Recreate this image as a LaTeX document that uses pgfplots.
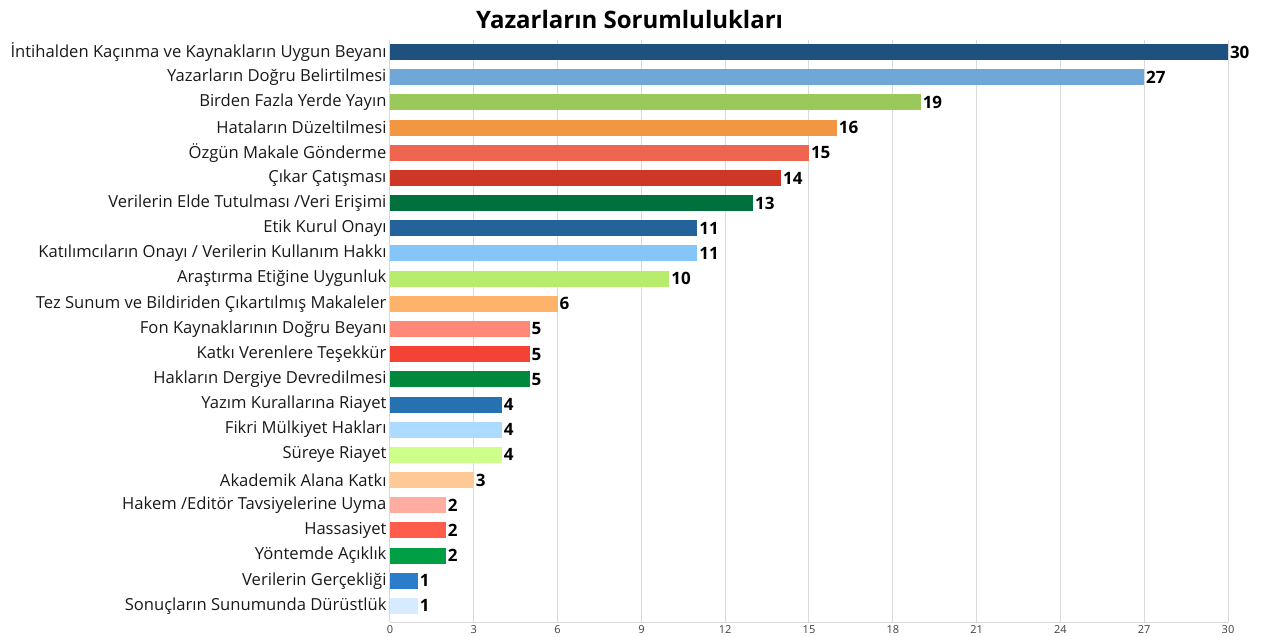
\documentclass[border=0pt]{standalone}
\usepackage{pgfplots}
\pgfplotsset{compat=1.18}
\usepackage{fontspec}
\setmainfont{Open Sans}

\definecolor{c1}{HTML}{1E5180}
\definecolor{c2}{HTML}{6FA8D6}
\definecolor{c3}{HTML}{9BC85A}
\definecolor{c4}{HTML}{F39642}
\definecolor{c5}{HTML}{EE6650}
\definecolor{c6}{HTML}{CC3726}
\definecolor{c7}{HTML}{00703C}
\definecolor{c8}{HTML}{236399}
\definecolor{c9}{HTML}{85C5F8}
\definecolor{c10}{HTML}{B8EC6C}
\definecolor{c11}{HTML}{FFB36A}
\definecolor{c12}{HTML}{FF8878}
\definecolor{c13}{HTML}{F44335}
\definecolor{c14}{HTML}{00883C}
\definecolor{c15}{HTML}{2671B2}
\definecolor{c16}{HTML}{ADDAFF}
\definecolor{c17}{HTML}{CDFF8A}
\definecolor{c18}{HTML}{FFC995}
\definecolor{c19}{HTML}{FFADA0}
\definecolor{c20}{HTML}{FF5C4C}
\definecolor{c21}{HTML}{009E45}
\definecolor{c22}{HTML}{2B7DCB}
\definecolor{c23}{HTML}{D6EBFF}
\definecolor{gridc}{HTML}{D9D9D9}

\begin{document}
\begin{tikzpicture}
\begin{axis}[
    at={(0,0)}, anchor=south west,
    scale only axis,
    width=838pt, height=582pt,
    xbar, bar width=16pt, bar shift=0pt,
    xmin=0, xmax=30,
    ymin=-0.48, ymax=22.64,
    y dir=reverse,
    xtick={0,3,...,30},
    ytick={0,...,22},
    yticklabels={İntihalden Kaçınma ve Kaynakların Uygun Beyanı,
      Yazarların Doğru Belirtilmesi,
      Birden Fazla Yerde Yayın,
      Hataların Düzeltilmesi,
      Özgün Makale Gönderme,
      Çıkar Çatışması,
      Verilerin Elde Tutulması /Veri Erişimi,
      Etik Kurul Onayı,
      Katılımcıların Onayı / Verilerin Kullanım Hakkı,
      Araştırma Etiğine Uygunluk,
      Tez Sunum ve Bildiriden Çıkartılmış Makaleler,
      Fon Kaynaklarının Doğru Beyanı,
      Katkı Verenlere Teşekkür,
      Hakların Dergiye Devredilmesi,
      Yazım Kurallarına Riayet,
      Fikri Mülkiyet Hakları,
      Süreye Riayet,
      Akademik Alana Katkı,
      Hakem /Editör Tavsiyelerine Uyma,
      Hassasiyet,
      Yöntemde Açıklık,
      Verilerin Gerçekliği,
      Sonuçların Sunumunda Dürüstlük},
    yticklabel style={font=\fontsize{16.6}{18}\selectfont, text=black!90},
    xticklabel style={font=\fontsize{11}{12}\selectfont, text=black!75},
    /pgf/number format/assume math mode=true,
    major tick length=0pt,
    xmajorgrids, grid style={gridc, line width=1pt},
    axis x line*=bottom, axis y line*=left,
    axis line style={gridc, line width=1pt},
    x axis line style={-}, y axis line style={-},
    xtick pos=bottom, ytick pos=left,
    nodes near coords,
    every node near coord/.append style={font=\fontsize{17}{18}\selectfont\bfseries, black, anchor=west, xshift=-1.5pt},
    clip=false,
]
\addplot[fill=c1, draw=none] coordinates {(30,0)};
\addplot[fill=c2, draw=none] coordinates {(27,1)};
\addplot[fill=c3, draw=none] coordinates {(19,2)};
\addplot[fill=c4, draw=none] coordinates {(16,3)};
\addplot[fill=c5, draw=none] coordinates {(15,4)};
\addplot[fill=c6, draw=none] coordinates {(14,5)};
\addplot[fill=c7, draw=none] coordinates {(13,6)};
\addplot[fill=c8, draw=none] coordinates {(11,7)};
\addplot[fill=c9, draw=none] coordinates {(11,8)};
\addplot[fill=c10, draw=none] coordinates {(10,9)};
\addplot[fill=c11, draw=none] coordinates {(6,10)};
\addplot[fill=c12, draw=none] coordinates {(5,11)};
\addplot[fill=c13, draw=none] coordinates {(5,12)};
\addplot[fill=c14, draw=none] coordinates {(5,13)};
\addplot[fill=c15, draw=none] coordinates {(4,14)};
\addplot[fill=c16, draw=none] coordinates {(4,15)};
\addplot[fill=c17, draw=none] coordinates {(4,16)};
\addplot[fill=c18, draw=none] coordinates {(3,17)};
\addplot[fill=c19, draw=none] coordinates {(2,18)};
\addplot[fill=c20, draw=none] coordinates {(2,19)};
\addplot[fill=c21, draw=none] coordinates {(2,20)};
\addplot[fill=c22, draw=none] coordinates {(1,21)};
\addplot[fill=c23, draw=none] coordinates {(1,22)};
\node[font=\fontsize{24}{26}\selectfont\bfseries, anchor=center] at (rel axis cs:0.286,1) [yshift=20pt] {Yazarların Sorumlulukları};
\end{axis}
\pgfresetboundingbox
\path (-390pt,-15pt) rectangle (876pt,622pt);
\end{tikzpicture}
\end{document}
